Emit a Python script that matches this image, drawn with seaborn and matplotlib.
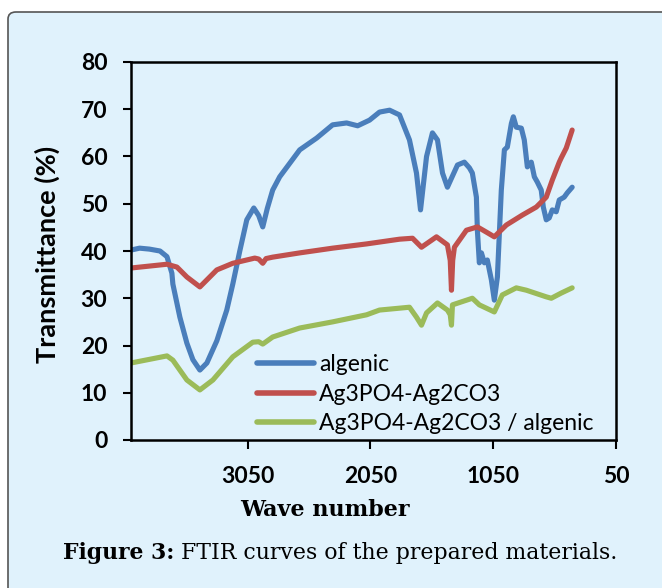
import matplotlib
matplotlib.use("Agg")
import matplotlib.pyplot as plt
import seaborn as sns
import pandas as pd
from matplotlib.patches import FancyBboxPatch

# FTIR transmittance spectra (wave number in cm-1, transmittance in %)
algenic_wn = [4000, 3930, 3850, 3764, 3707, 3667, 3659, 3602, 3545, 3496, 3439, 3382,
              3301, 3220, 3171, 3114, 3057, 3000, 2960, 2927, 2890, 2846, 2789, 2626,
              2488, 2358, 2244, 2154, 2057, 1976, 1894, 1813, 1732, 1675, 1642, 1593,
              1545, 1504, 1463, 1423, 1390, 1341, 1285, 1244, 1220, 1187, 1179, 1163,
              1146, 1122, 1098, 1065, 1041, 1016, 984, 959, 935, 902, 886, 862, 821,
              797, 772, 740, 715, 691, 659, 642, 618, 594, 569, 537, 512, 472, 447, 407]
algenic_t = [40.2, 40.6, 40.4, 40.0, 38.8, 35.3, 33.0, 26.0, 20.5, 17.0, 14.8, 16.3,
             21.0, 27.5, 33.0, 40.0, 46.6, 49.1, 47.5, 45.1, 49.0, 52.9, 55.7, 61.4,
             63.9, 66.7, 67.1, 66.5, 67.7, 69.4, 69.8, 68.8, 63.5, 56.5, 48.7, 60.0,
             65.0, 63.5, 56.5, 53.5, 55.4, 58.2, 58.8, 57.6, 56.5, 51.4, 44.4, 37.5,
             39.6, 37.5, 38.1, 33.9, 29.6, 34.5, 52.9, 61.4, 62.0, 67.0, 68.4, 66.2, 66.0,
             63.5, 57.8, 58.8, 55.7, 54.6, 52.9, 49.3, 46.6, 47.0, 48.7, 48.3, 50.8, 51.4, 52.3, 53.5]

composite_wn = [4000, 3707, 3626, 3545, 3439, 3301, 3171, 2992, 2960, 2927, 2900, 2846,
                2626, 2358, 2081, 1813, 1707, 1634, 1512, 1423, 1400, 1390, 1380, 1366,
                1268, 1179, 1106, 1041, 943, 813, 699, 618, 569, 512, 496, 455, 407]
composite_t = [36.4, 37.2, 36.6, 34.5, 32.4, 36.0, 37.4, 38.5, 38.3, 37.4, 38.4, 38.7,
               39.6, 40.6, 41.5, 42.5, 42.7, 40.8, 43.0, 41.3, 38.0, 31.7, 38.0, 40.8,
               44.4, 45.1, 44.0, 43.0, 45.5, 47.6, 49.3, 51.4, 55.0, 58.8, 59.7, 61.8, 65.6]

hybrid_wn = [4000, 3707, 3659, 3545, 3439, 3333, 3171, 3008, 2960, 2927, 2846, 2626,
             2358, 2081, 1976, 1813, 1732, 1675, 1634, 1593, 1504, 1423, 1400, 1390,
             1382, 1220, 1163, 1041, 976, 862, 780, 618, 577, 496, 407]
hybrid_t = [16.3, 17.8, 16.9, 12.7, 10.6, 12.7, 17.6, 20.7, 20.8, 20.3, 21.8, 23.7,
            25.0, 26.5, 27.5, 27.9, 28.1, 26.0, 24.3, 26.9, 29.0, 27.5, 26.5, 24.3,
            28.6, 30.0, 28.6, 27.1, 30.7, 32.2, 31.7, 30.3, 30.0, 31.1, 32.2]

labels = ["algenic", "Ag3PO4-Ag2CO3", "Ag3PO4-Ag2CO3 / algenic"]
colors = ["#4a7ebb", "#c0504d", "#9bbb59"]
x_ticks = [3050, 2050, 1050, 50]
y_ticks = [0, 10, 20, 30, 40, 50, 60, 70, 80]

frames = []
for name, wn, t in zip(labels, [algenic_wn, composite_wn, hybrid_wn],
                       [algenic_t, composite_t, hybrid_t]):
    frames.append(pd.DataFrame({"wave": wn, "T": t, "sample": name}))
df = pd.concat(frames, ignore_index=True)

sns.set_style("white")
plt.rcParams["font.family"] = ["Lato", "DejaVu Sans"]
plt.rcParams["text.color"] = "black"
plt.rcParams["xtick.color"] = "black"
plt.rcParams["ytick.color"] = "black"

bg = "#e0f2fc"
W, H = 662, 588
fig = plt.figure(figsize=(W / 100, H / 100), dpi=100, facecolor="white")

# rounded panel behind the whole chart
panel = FancyBboxPatch((8 / W, -0.1), 1.2, 1.1 - 12 / H,
                       boxstyle="round,pad=0,rounding_size=0.012",
                       transform=fig.transFigure, facecolor=bg,
                       edgecolor="#555555", linewidth=1.2, zorder=-5)
fig.patches.append(panel)

ax = fig.add_axes([131 / W, 1 - 440 / H, (616 - 131) / W, (440 - 62) / H])
ax.set_facecolor(bg)

sns.lineplot(data=df, x="wave", y="T", hue="sample", hue_order=labels,
             palette=colors, linewidth=3.7, ax=ax, estimator=None,
             legend=True)
for ln in ax.get_lines():
    ln.set_solid_capstyle("round")
    ln.set_solid_joinstyle("round")

ax.set_xlim(4000, 50)
ax.set_ylim(0, 80)
ax.set_xticks(x_ticks)
ax.set_yticks(y_ticks)
ax.set_xticklabels([str(v) for v in x_ticks], fontsize=16.5, fontweight="bold")
ax.set_yticklabels([str(v) for v in y_ticks], fontsize=16.5, fontweight="bold")
ax.tick_params(axis="y", direction="out", length=6, width=1.5, pad=11, left=True)
ax.tick_params(axis="x", direction="out", length=6.5, width=1.5, pad=12, bottom=True)
for s in ax.spines.values():
    s.set_visible(True)
    s.set_color("black")
    s.set_linewidth(1.8)
ax.set_xlabel("")
ax.set_ylabel("")

fig.text(47 / W, 1 - 254 / H, "Transmittance (%)", rotation=90, ha="center",
         va="center", fontsize=19.5, fontweight="bold")
fig.text(325 / W, 1 - 510 / H, "Wave number", ha="center", va="center",
         fontsize=16, fontweight="bold", family="DejaVu Serif")

leg = ax.legend(handles=ax.get_lines()[:3], labels=labels, frameon=False,
                loc="upper left", bbox_to_anchor=(257 / W, 1 - 354 / H),
                bbox_transform=fig.transFigure, fontsize=16.5, handlelength=2.5,
                handletextpad=0.2, labelspacing=0.38, borderpad=0, borderaxespad=0)
for h in leg.get_lines():
    h.set_linewidth(4.0)
    h.set_solid_capstyle("round")

# caption: bold lead-in followed by regular text
cap1 = fig.text(63 / W, 1 - 553 / H, "Figure 3:", ha="left", va="center",
                fontsize=15.8, fontweight="bold", family="DejaVu Serif")
fig.canvas.draw()
ext = cap1.get_window_extent()
fig.text(ext.x1 / W, 1 - 553 / H, " FTIR curves of the prepared materials.",
         ha="left", va="center", fontsize=15.8, family="DejaVu Serif")

fig.savefig("out.png", dpi=100, facecolor="white")
